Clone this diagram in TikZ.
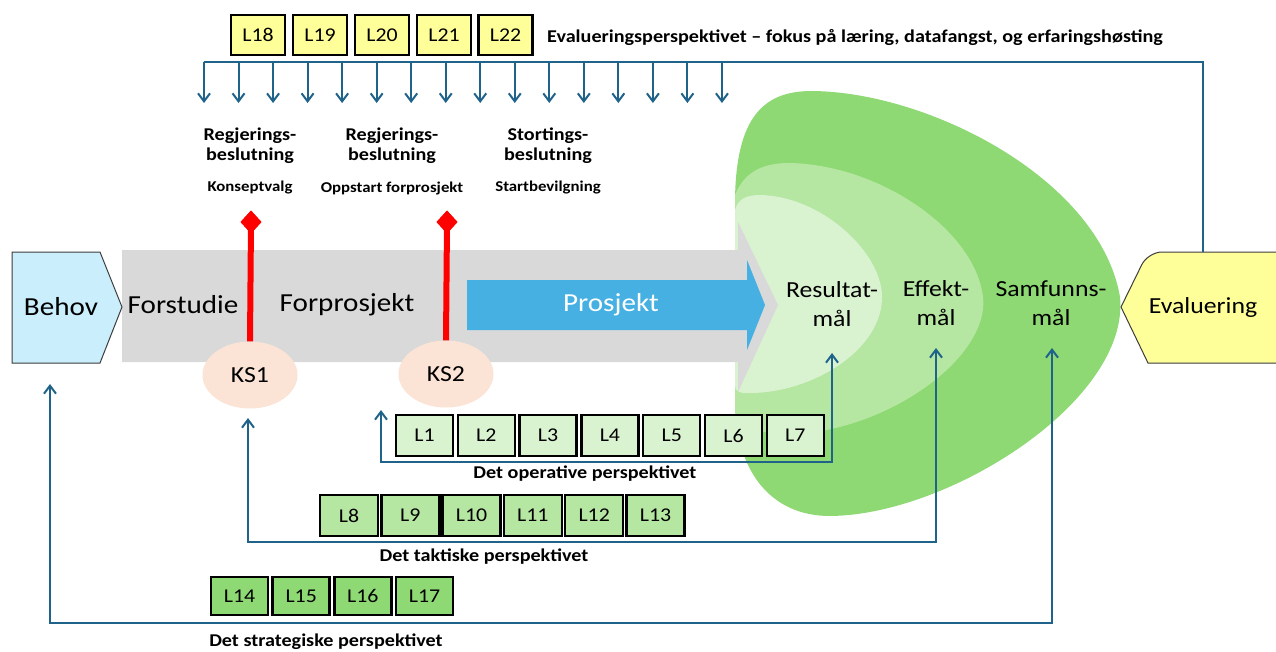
\documentclass[tikz,border=0pt]{standalone}
\usepackage{fontspec}
\setmainfont{Carlito}
\newfontfamily\regf[FakeStretch=1.12]{Carlito}
\usetikzlibrary{arrows.meta,shapes.geometric,calc}
\definecolor{lineblue}{RGB}{31,99,138}
\definecolor{gband}{RGB}{217,217,217}
\definecolor{pblue}{RGB}{69,176,225}
\definecolor{behovc}{RGB}{202,238,251}
\definecolor{ksc}{RGB}{251,227,214}
\definecolor{yel}{RGB}{255,255,153}
\definecolor{gone}{RGB}{217,242,208}
\definecolor{gtwo}{RGB}{181,230,162}
\definecolor{gthree}{RGB}{142,217,115}
\definecolor{edgegray}{RGB}{60,60,60}
\tikzset{
  flow/.style={draw=lineblue, line width=2, arrows={-}},
  tip/.tip={Straight Barb[length=8,width=12,line width=2]},
  lbox/.style={draw=black, line width=2.5, inner sep=0, minimum width=56, minimum height=40, font=\regf\fontsize{19.5}{22}\selectfont},
  bigtxt/.style={font=\regf\fontsize{26}{30}\selectfont, inner sep=0},
  goaltxt/.style={font=\regf\fontsize{23}{29}\selectfont, align=center, inner sep=0},
  dectxt/.style={font=\regf\bfseries\fontsize{18}{20}\selectfont, align=center, inner sep=0},
  subtxt/.style={font=\regf\bfseries\fontsize{15}{18}\selectfont, inner sep=0},
  perstxt/.style={font=\regf\bfseries\fontsize{18}{20}\selectfont, inner sep=0},
  ksnode/.style={ellipse, fill=ksc, minimum width=95, minimum height=67, inner sep=0, font=\regf\fontsize{23}{26}\selectfont},
  redmark/.style={diamond, fill=red, minimum width=21, minimum height=23, inner sep=0},
  redline/.style={draw=red, line width=6}
}
\begin{document}
\begin{tikzpicture}[x=1pt,y=-1pt]
\useasboundingbox (0,0) rectangle (1276,651);
\fill[white] (0,0) rectangle (1276,651);

% green goal shapes
\fill[gthree] (735,300) -- (735,200) .. controls (736,115) and (765,91) .. (812,91)
  .. controls (930,92) and (1100,180) .. (1120,297)
  .. controls (1130,400) and (950,515) .. (830,516)
  .. controls (770,516) and (735,470) .. (735,400) -- cycle;
\fill[gtwo] (735,300) -- (735,195) .. controls (745,170) and (765,163) .. (790,163)
  .. controls (880,165) and (975,230) .. (983,297)
  .. controls (990,360) and (880,435) .. (785,434)
  .. controls (760,434) and (737,425) .. (735,410) -- cycle;
\fill[gone] (735,300) -- (735,210) .. controls (738,198) and (748,195) .. (760,195)
  .. controls (820,196) and (880,250) .. (882,295)
  .. controls (884,350) and (810,395) .. (745,393)
  .. controls (738,393) and (735,390) .. (735,385) -- cycle;

% gray process band
\fill[gband] (122,250) -- (738,250) -- (738,222) -- (778,305) -- (738,392) -- (738,362) -- (122,362) -- cycle;
% blue project arrow
\fill[pblue] (467,280) -- (747,280) -- (747,260) -- (765,305) -- (747,350) -- (747,330) -- (467,330) -- cycle;
\node[bigtxt, text=white] (prosj) at (611,305) {Prosjekt};

% Behov
\draw[fill=behovc, draw=edgegray, line width=1] (12,252) -- (100,252) -- (122,307) -- (100,363) -- (12,363) -- cycle;
\node[bigtxt] (behov) at (61,307) {Behov};
\node[bigtxt] (forst) at (183,305) {Forstudie};
\node[bigtxt] (forpr) at (347,305) {Forprosjekt};

% Evaluering
\draw[fill=yel, draw=edgegray, line width=1, rounded corners=14] (1282,252) -- (1148,252) [sharp corners] -- (1121,307) -- (1148,363) [rounded corners=14] -- (1282,363);
\node[font=\regf\fontsize{23}{26}\selectfont, inner sep=0] (eval) at (1203,307) {Evaluering};
\coordinate (evtop) at (1203,252);

% goal texts
\node[goaltxt] (res) at (832,304) {Resultat-\\mål};
\node[goaltxt] (eff) at (936,303) {Effekt-\\mål};
\node[goaltxt] (sam) at (1051,303) {Samfunns-\\mål};

% decisions
\node[dectxt] (dec1) at (250,146) {Regjerings-\\beslutning};
\node[dectxt] (dec2) at (392,146) {Regjerings-\\beslutning};
\node[dectxt] (dec3) at (548,146) {Stortings-\\beslutning};
\node[subtxt] (sub1) at (250,188) {Konseptvalg};
\node[subtxt] (sub2) at (392,188) {Oppstart forprosjekt};
\node[subtxt] (sub3) at (548,188) {Startbevilgning};

% KS marks
\node[redmark] (d1) at (251,222) {};
\node[redmark] (d2) at (447,222) {};
\node[ksnode] (ks1) at (250,375) {KS1};
\node[ksnode] (ks2) at (446,374) {KS2};
\draw[redline] (d1.center) -- (ks1.north);
\draw[redline] (d2.center) -- (ks2.north);
\node[redmark] at (d1) {};
\node[redmark] at (d2) {};

% evaluation perspective (top)
\coordinate (tl) at (204,62);
\draw[flow] (evtop) |- (tl);
\foreach \i in {0,...,15} {
  \draw[flow,-tip] ($(tl)+(34.53*\i,0)$) -- ++(0,41);
}

% operative / tactical / strategic connectors
\coordinate (opR) at (832,353);
\coordinate (opL) at (381,410);
\draw[flow,tip-tip] (opR) -- ++(0,109) -| (opL);
\coordinate (taR) at (936,348);
\coordinate (taL) at (248,418);
\draw[flow,tip-tip] (taR) -- ++(0,194) -| (taL);
\coordinate (stR) at (1052,348);
\coordinate (stL) at (50,384);
\draw[flow,tip-tip] (stR) -- ++(0,275) -| (stL);

% top boxes
\foreach \n/\x in {18/258,19/320,20/382,21/444,22/505.5} {
  \node[lbox, fill=yel, minimum width=54] (L\n) at (\x,35) {L\n};
}
\node[perstxt, anchor=west] (evpers) at (547,38) {Evalueringsperspektivet – fokus på læring, datafangst, og erfaringshøsting};

% operative boxes
\foreach \n in {1,...,7} {
  \node[lbox, fill=gone, minimum width=57, minimum height=41] (L\n) at ({424.5+61.8*(\n-1)},435.5) {L\n};
}
\node[perstxt] (oppers) at (585,474) {Det operative perspektivet};

% tactical boxes
\foreach \n in {8,...,13} {
  \node[lbox, fill=gtwo, minimum width=58, minimum height=41] (L\n) at ({349+61.3*(\n-8)},515.5) {L\n};
}
\node[perstxt] (tapers) at (484,557) {Det taktiske perspektivet};

% strategic boxes
\foreach \n in {14,...,17} {
  \node[lbox, fill=gthree, minimum width=57, minimum height=38] (L\n) at ({239.5+61.7*(\n-14)},596) {L\n};
}
\node[perstxt] (stpers) at (326,642) {Det strategiske perspektivet};
\end{tikzpicture}
\end{document}
